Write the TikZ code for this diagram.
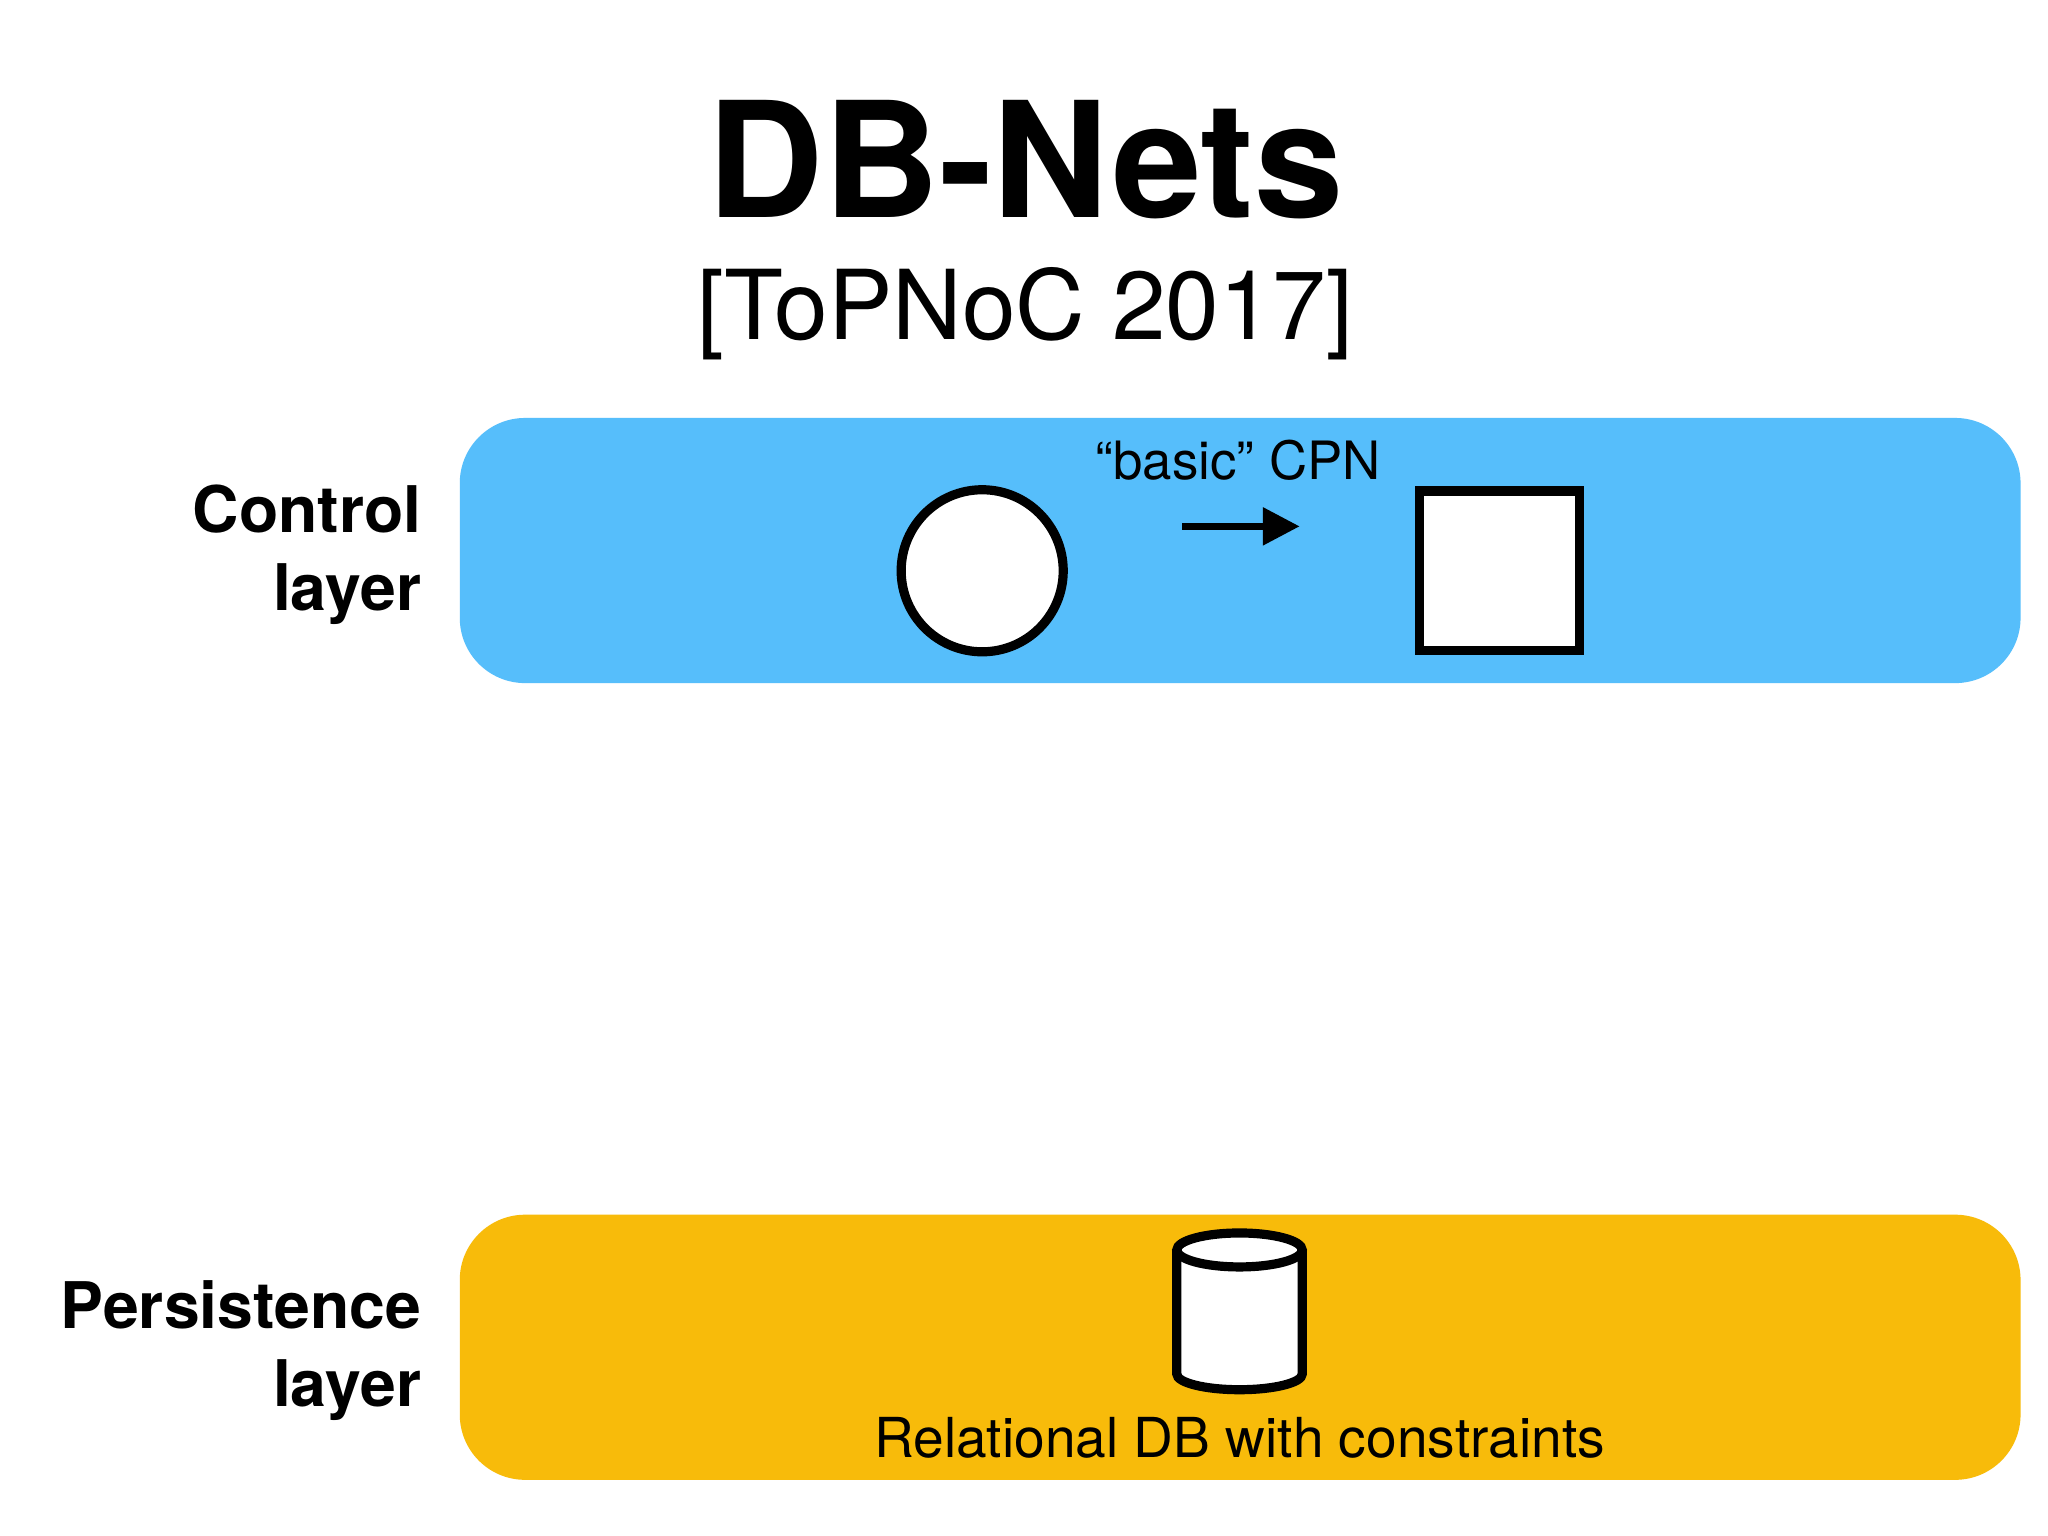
\documentclass[tikz,border=0pt]{standalone}
\usepackage{fontspec}
\setmainfont{TeX Gyre Heros}
\usetikzlibrary{arrows.meta}
\definecolor{ctrl}{HTML}{56BEFB}
\definecolor{pers}{HTML}{F8BB0A}
\tikzset{layer/.style={rounded corners=0.5cm},
 lbl/.style={anchor=east,align=right,font=\fontsize{14}{17}\selectfont\bfseries},
 thick5/.style={line width=2pt,draw=black,fill=white}}
\begin{document}
\begin{tikzpicture}[x=0.01cm,y=-0.01cm]
\useasboundingbox (0,0) rectangle (1568,1176);
\fill[white] (0,0) rectangle (1568,1176);
\node (title) at (785,122) {\fontsize{35}{40}\selectfont\bfseries DB-Nets};
\node (sub) at (785,240) {\fontsize{21}{25}\selectfont [ToPNoC 2017]};
\fill[ctrl,layer] (352,320) rectangle (1547,523);
\fill[pers,layer] (352,930) rectangle (1547,1133);
\node[lbl] (cl) at (335,425) {Control\\layer};
\node[lbl] (pl) at (335,1034) {Persistence\\layer};
\node[thick5,circle,minimum size=1.24cm,inner sep=0] (place) at (752,437) {};
\node[thick5,rectangle,minimum size=1.22cm,inner sep=0] (trans) at (1148,437) {};
\coordinate (a1) at (905,403); \coordinate (a2) at (995,403);
\draw[line width=1.4pt,-{Triangle[length=8pt,width=8pt]}] (a1) -- (a2);
\node (cpn) at (948,352) {\fontsize{11.5}{13}\selectfont “basic” CPN};
\coordinate (db) at (949,1003);
\draw[thick5] (901,957) -- (901,1052) arc[start angle=180,end angle=360,x radius=48,y radius=-12] -- (997,957);
\draw[thick5] (949,957) ellipse[x radius=48,y radius=13];
\node (rdb) at (949,1101) {\fontsize{12}{14}\selectfont Relational DB with constraints};
\end{tikzpicture}
\end{document}
